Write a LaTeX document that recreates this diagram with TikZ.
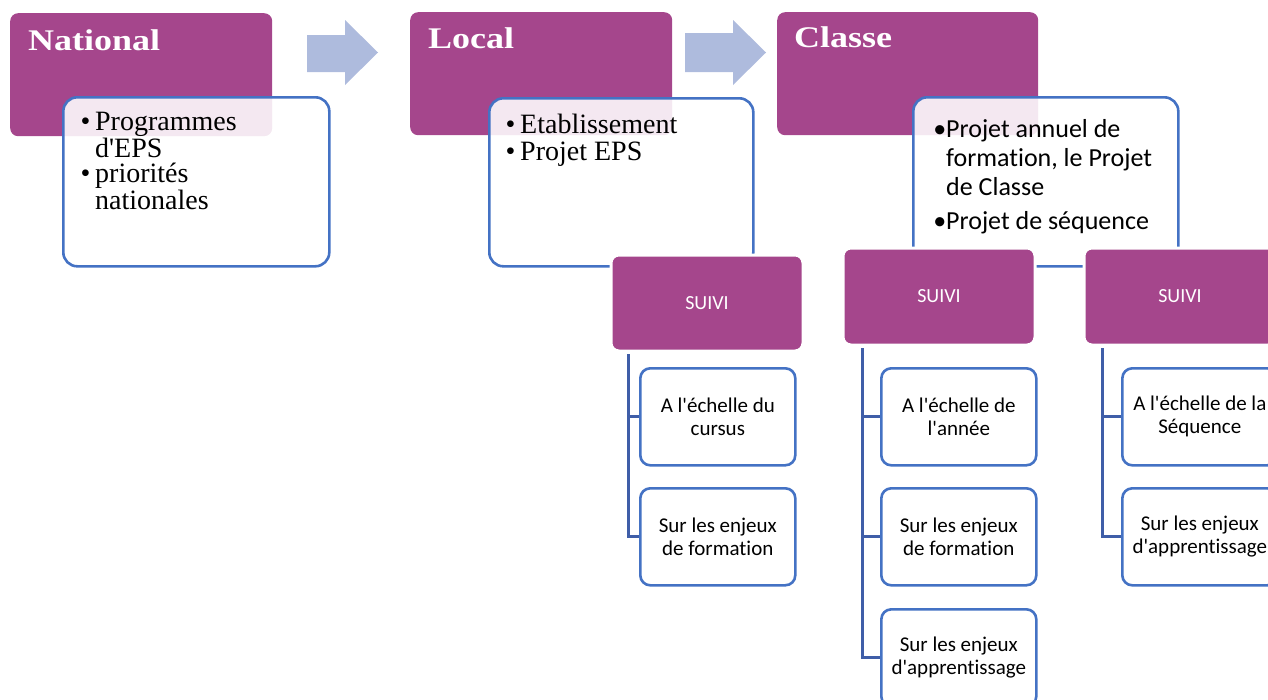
\documentclass[tikz,border=0pt]{standalone}
\usepackage{fontspec}
\setmainfont{Liberation Serif}
\newfontfamily\calib[Ligatures=NoCommon]{Carlito}
\newfontfamily\headfont[FakeStretch=1.2]{Liberation Serif}
\definecolor{purp}{HTML}{A5468C}
\definecolor{arr}{HTML}{AEBBDD}
\definecolor{bl}{HTML}{4472C4}
\definecolor{connc}{HTML}{3F5EA8}
\begin{document}
\begin{tikzpicture}[x=1pt,y=-1pt,
 purpbox/.style={fill=purp, rounded corners=8pt, anchor=north west, inner sep=0pt, minimum height=123pt},
 notebox/.style={draw=bl, line width=2.6pt, fill=white, fill opacity=0.88, draw opacity=1, rounded corners=14pt, anchor=north west, inner sep=0pt},
 suivibox/.style={fill=purp, draw=white, line width=3pt, rounded corners=8pt, anchor=north west, inner sep=0pt, text=white, font=\calib\fontsize{20}{22}\selectfont},
 childbox/.style={draw=bl, line width=2.6pt, fill=white, rounded corners=10pt, anchor=north west, minimum width=155pt, minimum height=97pt, inner sep=0pt, align=center, font=\calib\fontsize{21}{23}\selectfont},
 conn/.style={draw=connc, line width=3pt},
 arrowshape/.style={fill=arr},
 head/.style={anchor=base west, text=white, inner sep=0pt, font=\headfont\bfseries\fontsize{30}{34}\selectfont},
 sertext/.style={anchor=base west, inner sep=0pt, align=left, font=\fontsize{28}{24}\selectfont},
 santext/.style={anchor=base west, inner sep=0pt, align=left, font=\calib\fontsize{26}{29}\selectfont}]
\path[use as bounding box] (0,0) rectangle (1268,699);
\clip (0,0) rectangle (1268,699);
% level boxes
\node[purpbox, minimum width=262pt] (nat) at (10,13) {};
\node[purpbox, minimum width=262pt] (loc) at (410,12) {};
\node[purpbox, minimum width=261pt] (cls) at (777,12) {};
% arrows
\fill[arrowshape] (307,35) -- (345,35) -- (345,20) -- (378,52.5) -- (345,85) -- (345,72) -- (307,72) -- cycle;
\fill[arrowshape] (685,33) -- (733,33) -- (733,20) -- (766,52.5) -- (733,85) -- (733,72) -- (685,72) -- cycle;
% headings
\node[head] (natt) at (28,50) {National};
\node[head] (loct) at (428,48) {Local};
\node[head] (clst) at (794,47) {Classe};
% note boxes
\node[notebox, minimum width=266pt, minimum height=169pt] (natn) at (62,96) {};
\node[notebox, minimum width=264pt, minimum height=168pt] (locn) at (488,97) {};
\node[notebox, minimum width=265pt, minimum height=169pt] (clsn) at (912,96) {};
% note texts (base anchor = last line)
\node[sertext] (natb1) at (95,157) {\llap{\textbullet\,}Programmes\\d\textquotesingle EPS};
\node[sertext] (natb2) at (95,209) {\llap{\textbullet\,}priorités\\nationales};
\node[sertext, font=\fontsize{28}{27}\selectfont] (locb) at (520,160) {\llap{\textbullet\,}Etablissement\\\llap{\textbullet\,}Projet EPS};
\node[santext] (clsb1) at (946,195) {\llap{\textbullet}Projet annuel de\\formation, le Projet\\de Classe};
\node[santext] (clsb2) at (946,229) {\llap{\textbullet}Projet de séquence};
% suivi boxes
\node[suivibox, minimum width=192pt, minimum height=96pt] (s1) at (609.5,253.5) {SUIVI};
\node[suivibox, minimum width=192pt, minimum height=97pt] (s2) at (841.5,246.5) {SUIVI};
\node[suivibox, minimum width=192pt, minimum height=97pt] (s3) at (1082.5,246.5) {SUIVI};
% children
\node[childbox] (c11) at (639,367) {A l'échelle du\\cursus};
\node[childbox] (c12) at (639,487) {Sur les enjeux\\de formation};
\node[childbox] (c21) at (880,367) {A l'échelle de\\l'année};
\node[childbox] (c22) at (880,487) {Sur les enjeux\\de formation};
\node[childbox] (c23) at (880,608) {Sur les enjeux\\d'apprentissage};
\node[childbox] (c31) at (1121,367) {A l'échelle de la\\Séquence};
\node[childbox] (c32) at (1121,487) {Sur les enjeux\\d'apprentissage};
% connectors
\coordinate (t1) at ([xshift=18.5pt,yshift=-1.5pt]s1.south west);
\coordinate (t2) at ([xshift=20.5pt,yshift=-1.5pt]s2.south west);
\coordinate (t3) at ([xshift=19.5pt,yshift=-1.5pt]s3.south west);
\draw[conn] (t1) |- (c11.west);
\draw[conn] (t1) |- (c12.west);
\draw[conn] (t2) |- (c21.west);
\draw[conn] (t2) |- (c22.west);
\draw[conn] (t2) |- (c23.west);
\draw[conn] (t3) |- (c31.west);
\draw[conn] (t3) |- (c32.west);
\end{tikzpicture}
\end{document}
